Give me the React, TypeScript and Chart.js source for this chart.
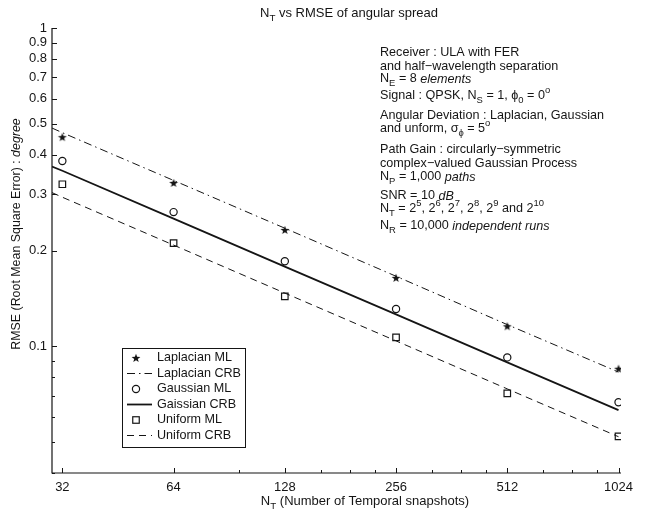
import { useEffect, useRef } from 'react';
import { Chart, registerables } from 'chart.js';
Chart.register(...registerables);

// ---- data ----
const NT = [32, 64, 128, 256, 512, 1024];
const laplacianML = [0.454, 0.326, 0.232, 0.164, 0.1156, 0.085];
const gaussianML = [0.382, 0.264, 0.185, 0.131, 0.0923, 0.0667];
const uniformML = [0.323, 0.211, 0.1436, 0.1067, 0.0712, 0.0521];

const crbNT = [30, 32, 64, 128, 256, 512, 1024];
const laplacianCRB = [0.485, 0.469, 0.332, 0.235, 0.166, 0.117, 0.083];
const gaussianCRB = [0.367, 0.356, 0.252, 0.178, 0.126, 0.089, 0.063];
const uniformCRB = [0.304, 0.294, 0.208, 0.147, 0.104, 0.0735, 0.052];

const xMajorTicks = [32, 64, 128, 256, 512, 1024];
const xMinorTicks = [96, 160, 192, 224, 320, 384, 448, 640, 768, 896];
const yMajorTicks = [0.1, 0.2, 0.3, 0.4, 0.5, 0.6, 0.7, 0.8, 0.9, 1];
const yMinorTicks = [0.04, 0.05, 0.06, 0.07, 0.08, 0.09];

const legendLabels = ['Laplacian ML', 'Laplacian CRB', 'Gaussian ML', 'Gaissian CRB', 'Uniform ML', 'Uniform CRB'];

const FONT = '"Liberation Sans", Arial, Helvetica, sans-serif';
const INK = '#151515';

type Seg = { t: string; s?: 'sub' | 'sup'; i?: boolean };

function segFont(seg: Seg, size: number) {
  const fs = seg.s ? size * 0.75 : size;
  return `${seg.i ? 'italic ' : ''}${fs}px ${FONT}`;
}

function richWidth(ctx: CanvasRenderingContext2D, segs: Seg[], size: number) {
  let w = 0;
  for (const sg of segs) {
    ctx.font = segFont(sg, size);
    w += ctx.measureText(sg.t).width;
  }
  return w;
}

function drawRich(ctx: CanvasRenderingContext2D, x: number, y: number, segs: Seg[], size: number, align: 'left' | 'center' = 'left') {
  let cx = x;
  if (align === 'center') cx = x - richWidth(ctx, segs, size) / 2;
  ctx.textAlign = 'left';
  ctx.textBaseline = 'middle';
  for (const sg of segs) {
    ctx.font = segFont(sg, size);
    let dy = 0;
    if (sg.s === 'sub') dy = size * 0.38;
    if (sg.s === 'sup') dy = -size * 0.42;
    ctx.fillText(sg.t, cx, y + dy);
    cx += ctx.measureText(sg.t).width;
  }
}

function makeStar(): HTMLCanvasElement {
  const c = document.createElement('canvas');
  c.width = 10;
  c.height = 10;
  const g = c.getContext('2d')!;
  g.fillStyle = INK;
  g.beginPath();
  for (let i = 0; i < 10; i++) {
    const r = i % 2 ? 1.9 : 4.6;
    const a = -Math.PI / 2 + (i * Math.PI) / 5;
    g.lineTo(5 + r * Math.cos(a), 5.4 + r * Math.sin(a));
  }
  g.closePath();
  g.fill();
  return c;
}

const annotation: { y: number; segs: Seg[] }[] = [
  { y: 53, segs: [{ t: 'Receiver : ULA with FER' }] },
  { y: 67, segs: [{ t: 'and half\u2212wavelength separation' }] },
  { y: 79, segs: [{ t: 'N' }, { t: 'E', s: 'sub' }, { t: ' = 8 ' }, { t: 'elements', i: true }] },
  { y: 96, segs: [{ t: 'Signal : QPSK, N' }, { t: 'S', s: 'sub' }, { t: ' = 1, \u03d5' }, { t: '0', s: 'sub' }, { t: ' = 0' }, { t: 'o', s: 'sup' }] },
  { y: 116, segs: [{ t: 'Angular Deviation : Laplacian, Gaussian' }] },
  { y: 129, segs: [{ t: 'and unform, \u03c3' }, { t: '\u03d5', s: 'sub' }, { t: ' = 5' }, { t: 'o', s: 'sup' }] },
  { y: 150, segs: [{ t: 'Path Gain : circularly\u2212symmetric' }] },
  { y: 164, segs: [{ t: 'complex\u2212valued Gaussian Process' }] },
  { y: 177, segs: [{ t: 'N' }, { t: 'P', s: 'sub' }, { t: ' = 1,000 ' }, { t: 'paths', i: true }] },
  { y: 196, segs: [{ t: 'SNR = 10 ' }, { t: 'dB', i: true }] },
  { y: 209, segs: [{ t: 'N' }, { t: 'T', s: 'sub' }, { t: ' = 2' }, { t: '5', s: 'sup' }, { t: ', 2' }, { t: '6', s: 'sup' }, { t: ', 2' }, { t: '7', s: 'sup' }, { t: ', 2' }, { t: '8', s: 'sup' }, { t: ', 2' }, { t: '9', s: 'sup' }, { t: ' and 2' }, { t: '10', s: 'sup' }] },
  { y: 226, segs: [{ t: 'N' }, { t: 'R', s: 'sub' }, { t: ' = 10,000 ' }, { t: 'independent runs', i: true }] },
];

const decorPlugin = {
  id: 'decor',
  afterDraw(chart: any) {
    const ctx: CanvasRenderingContext2D = chart.ctx;
    const { left, right, top, bottom } = chart.chartArea;
    const xs = chart.scales.x;
    const ys = chart.scales.y;
    ctx.save();
    ctx.strokeStyle = INK;
    ctx.fillStyle = INK;
    ctx.setLineDash([]);
    ctx.lineWidth = 1.2;
    // axes
    ctx.beginPath();
    ctx.moveTo(left, top);
    ctx.lineTo(left, bottom);
    ctx.lineTo(right, bottom);
    ctx.stroke();
    ctx.lineWidth = 1;
    ctx.beginPath();
    for (const v of xMajorTicks) {
      const px = Math.round(xs.getPixelForValue(v)) + 0.5;
      ctx.moveTo(px, bottom);
      ctx.lineTo(px, bottom - 5);
    }
    for (const v of xMinorTicks) {
      const px = Math.round(xs.getPixelForValue(v)) + 0.5;
      ctx.moveTo(px, bottom);
      ctx.lineTo(px, bottom - 3);
    }
    for (const v of yMajorTicks) {
      const py = Math.round(ys.getPixelForValue(v)) + 0.5;
      ctx.moveTo(left, py);
      ctx.lineTo(left + 5, py);
    }
    for (const v of yMinorTicks) {
      const py = Math.round(ys.getPixelForValue(v)) + 0.5;
      ctx.moveTo(left, py);
      ctx.lineTo(left + 3, py);
    }
    ctx.stroke();

    // title
    drawRich(ctx, 349, 13, [{ t: 'N' }, { t: 'T', s: 'sub' }, { t: ' vs RMSE of angular spread' }], 13, 'center');
    // x title
    drawRich(ctx, 365, 501, [{ t: 'N' }, { t: 'T', s: 'sub' }, { t: ' (Number of Temporal snapshots)' }], 13, 'center');
    // y title
    ctx.save();
    ctx.translate(17, 234);
    ctx.rotate(-Math.PI / 2);
    drawRich(ctx, 0, 0, [{ t: 'RMSE (Root Mean Square Error) : ' }, { t: 'degree', i: true }], 12.4, 'center');
    ctx.restore();

    // annotation
    for (const line of annotation) drawRich(ctx, 380, line.y, line.segs, 12.6, 'left');

    // legend
    const bx = 122, by = 348, bw = 123, bh = 99;
    ctx.fillStyle = '#ffffff';
    ctx.fillRect(bx, by, bw, bh);
    ctx.strokeStyle = INK;
    ctx.fillStyle = INK;
    ctx.lineWidth = 1;
    ctx.setLineDash([]);
    ctx.strokeRect(bx + 0.5, by + 0.5, bw, bh);
    const datasets = chart.data.datasets;
    datasets.forEach((ds: any, i: number) => {
      const ry = by + 10 + i * 15.5;
      ctx.save();
      ctx.strokeStyle = INK;
      if (ds.showLine) {
        ctx.lineWidth = ds.borderWidth;
        ctx.setLineDash(ds.borderDash || []);
        ctx.beginPath();
        ctx.moveTo(127, ry);
        ctx.lineTo(152, ry);
        ctx.stroke();
      } else {
        ctx.lineWidth = ds.pointBorderWidth;
        const ps = ds.pointStyle;
        if (ps === 'circle') {
          ctx.beginPath();
          ctx.arc(136, ry, ds.pointRadius, 0, Math.PI * 2);
          ctx.stroke();
        } else if (ps === 'rect') {
          const s = ds.pointRadius * Math.SQRT1_2;
          ctx.strokeRect(136 - s, ry - s, 2 * s, 2 * s);
        } else if (ps instanceof HTMLCanvasElement) {
          ctx.drawImage(ps, 136 - ps.width / 2, ry - ps.height / 2);
        }
      }
      ctx.restore();
      ctx.fillStyle = INK;
      ctx.font = `12.6px ${FONT}`;
      ctx.textAlign = 'left';
      ctx.textBaseline = 'middle';
      ctx.fillText(legendLabels[i], 157, ry);
    });
    ctx.restore();
  },
};

export default function App() {
  const ref = useRef<HTMLCanvasElement | null>(null);
  useEffect(() => {
    document.body.style.margin = '0';
    const canvas = ref.current;
    if (!canvas) return;
    const star = makeStar();
    const pts = (xsArr: number[], ysArr: number[]) => xsArr.map((x, i) => ({ x, y: ysArr[i] }));
    const chart = new Chart(canvas, {
      type: 'scatter',
      data: {
        datasets: [
          { label: legendLabels[0], data: pts(NT, laplacianML), showLine: false, pointStyle: star as any, pointRadius: 5, pointBorderWidth: 1, borderColor: INK, backgroundColor: INK },
          { label: legendLabels[1], data: pts(crbNT, laplacianCRB), showLine: true, pointRadius: 0, borderColor: INK, borderWidth: 1, borderDash: [8, 4, 1.5, 4] },
          { label: legendLabels[2], data: pts(NT, gaussianML), showLine: false, pointStyle: 'circle', pointRadius: 3.6, pointBorderWidth: 1.2, borderColor: INK, backgroundColor: 'rgba(0,0,0,0)' },
          { label: legendLabels[3], data: pts(crbNT, gaussianCRB), showLine: true, pointRadius: 0, borderColor: INK, borderWidth: 1.8, borderDash: [] },
          { label: legendLabels[4], data: pts(NT, uniformML), showLine: false, pointStyle: 'rect', pointRadius: 4.6, pointBorderWidth: 1.2, borderColor: INK, backgroundColor: 'rgba(0,0,0,0)' },
          { label: legendLabels[5], data: pts(crbNT, uniformCRB), showLine: true, pointRadius: 0, borderColor: INK, borderWidth: 1, borderDash: [7, 5] },
        ] as any,
      },
      options: {
        animation: false,
        responsive: false,
        layout: { padding: { left: 0, top: 28, right: 28, bottom: 0 } },
        plugins: { legend: { display: false }, title: { display: false }, tooltip: { enabled: false } },
        scales: {
          x: {
            type: 'logarithmic',
            min: 30,
            max: 1040,
            grid: { display: false, drawTicks: false, tickLength: 0 },
            border: { display: false },
            afterBuildTicks: (scale: any) => {
              scale.ticks = xMajorTicks.map((v) => ({ value: v }));
            },
            afterFit: (scale: any) => {
              scale.height = 41;
            },
            ticks: {
              autoSkip: false,
              maxRotation: 0,
              padding: 7,
              color: INK,
              font: { family: FONT, size: 13 },
              callback: (v: any) => String(v),
            },
          },
          y: {
            type: 'logarithmic',
            min: 0.04,
            max: 1,
            grid: { display: false, drawTicks: false, tickLength: 0 },
            border: { display: false },
            afterBuildTicks: (scale: any) => {
              scale.ticks = yMajorTicks.map((v) => ({ value: v }));
            },
            afterFit: (scale: any) => {
              scale.width = 52;
            },
            ticks: {
              autoSkip: false,
              padding: 5,
              color: INK,
              font: { family: FONT, size: 13 },
              callback: (v: any) => String(Number(Number(v).toFixed(2))),
            },
          },
        },
      } as any,
      plugins: [decorPlugin],
    });
    return () => chart.destroy();
  }, []);
  return (
    <div style={{ width: 649, height: 514, background: '#fff' }}>
      <canvas ref={ref} width={649} height={514} style={{ display: 'block' }} />
    </div>
  );
}
